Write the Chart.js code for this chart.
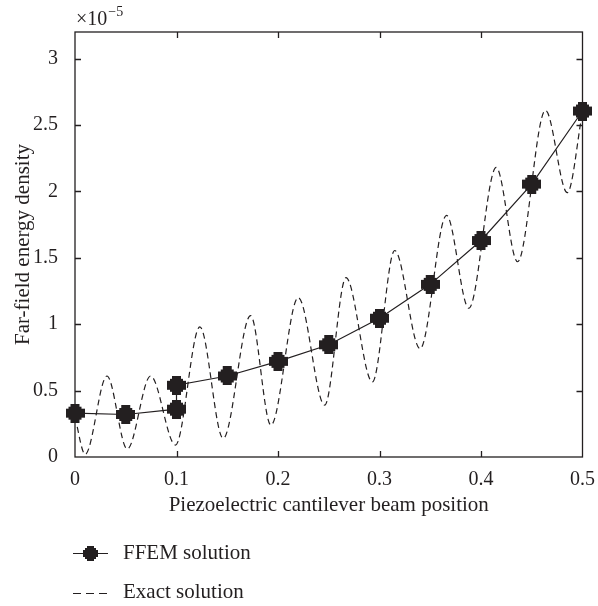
<!DOCTYPE html>
<html>
<head>
<meta charset="utf-8">
<script src="https://cdn.jsdelivr.net/npm/chart.js@4.4.1/dist/chart.umd.min.js"></script>
<style>
  html, body { margin: 0; padding: 0; background: #fff; }
  canvas { display: block; }
</style>
</head>
<body>
<canvas id="myChart" width="598" height="606"></canvas>
<script>
// values are in units of 1e-5 (see the x10^-5 label on the axis)
const ffemX = [0, 0.05, 0.1, 0.1, 0.15, 0.2, 0.25, 0.3, 0.35, 0.4, 0.45, 0.5];
const ffemY = [0.33, 0.32, 0.36, 0.54, 0.61, 0.72, 0.845, 1.045, 1.30, 1.63, 2.055, 2.605];

const exactX = [0, 0.010, 0.0315, 0.0515, 0.0745, 0.099, 0.123, 0.146, 0.173, 0.193, 0.220,
                0.246, 0.267, 0.293, 0.315, 0.340, 0.366, 0.388, 0.415, 0.436, 0.4635, 0.485, 0.5];
const exactY = [0.30, 0.02, 0.61, 0.06, 0.61, 0.09, 0.98, 0.14, 1.065, 0.24, 1.20,
                0.39, 1.35, 0.565, 1.555, 0.815, 1.82, 1.12, 2.18, 1.47, 2.61, 1.99, 2.60];

const xTicks = [0, 0.1, 0.2, 0.3, 0.4, 0.5];
const yTicks = [0, 0.5, 1, 1.5, 2, 2.5, 3];

const seriesNames = ["FFEM solution", "Exact solution"];

const ink = "#231f20";
const serif = "'Liberation Serif', 'DejaVu Serif', serif";

// blocky round marker like the one in the figure
function makeMarker(s) {
    const c = document.createElement("canvas");
    c.width = s; c.height = s;
    const g = c.getContext("2d");
    g.fillStyle = ink;
    const a = Math.round(s * 0.47);
    const o = Math.round((s - a) / 2);
    const b = Math.round(s * 0.16);
    g.fillRect(o, 0, a, s);
    g.fillRect(0, o, s, a);
    g.fillRect(b, b, s - 2 * b, s - 2 * b);
    return c;
}
const bigMarker = makeMarker(19);
const smallMarker = makeMarker(15);

const fmt = v => String(+v.toFixed(2));

// box, inward ticks on all four sides, exponent, legend
const frame = {
    id: "frame",
    beforeDatasetsDraw(chart) {
        const { ctx, chartArea: a, scales: { x, y } } = chart;
        ctx.save();
        ctx.strokeStyle = ink;
        ctx.lineWidth = 1.3;
        ctx.strokeRect(a.left, a.top, a.right - a.left, a.bottom - a.top);
        ctx.beginPath();
        x.ticks.forEach(t => {
            const px = Math.round(x.getPixelForValue(t.value)) + 0.5;
            if (px <= a.left + 2 || px >= a.right - 2) return;
            ctx.moveTo(px, a.bottom); ctx.lineTo(px, a.bottom - 6);
            ctx.moveTo(px, a.top); ctx.lineTo(px, a.top + 6);
        });
        y.ticks.forEach(t => {
            const py = Math.round(y.getPixelForValue(t.value)) + 0.5;
            if (py <= a.top + 2 || py >= a.bottom - 2) return;
            ctx.moveTo(a.left, py); ctx.lineTo(a.left + 6, py);
            ctx.moveTo(a.right, py); ctx.lineTo(a.right - 6, py);
        });
        ctx.stroke();

        ctx.fillStyle = ink;
        ctx.textBaseline = "alphabetic";
        ctx.font = "20px " + serif;
        ctx.fillText("\u00d710", a.left + 1, 25);
        const w = ctx.measureText("\u00d710").width;
        ctx.font = "14px " + serif;
        ctx.fillText("\u22125", a.left + 2 + w, 16);
        ctx.restore();
    },
    afterDraw(chart) {
        const ctx = chart.ctx;
        ctx.save();
        ctx.strokeStyle = ink;
        ctx.fillStyle = ink;
        ctx.lineWidth = 1.2;

        // FFEM entry
        ctx.beginPath();
        ctx.moveTo(73, 553.5); ctx.lineTo(108, 553.5);
        ctx.stroke();
        ctx.drawImage(smallMarker, 83, 546);

        // exact entry
        ctx.setLineDash([8, 5]);
        ctx.beginPath();
        ctx.moveTo(73, 593.5); ctx.lineTo(108, 593.5);
        ctx.stroke();
        ctx.setLineDash([]);

        ctx.font = "21px " + serif;
        ctx.textBaseline = "middle";
        ctx.fillText(seriesNames[0], 123, 553);
        ctx.fillText(seriesNames[1], 123, 592);
        ctx.restore();
    }
};

const data = {
    datasets: [
        {
            label: seriesNames[0],
            data: ffemX.map((x, i) => ({ x: x, y: ffemY[i] })),
            borderColor: ink,
            borderWidth: 1.2,
            pointStyle: bigMarker,
            tension: 0,
            clip: false,
            order: 0,
        },
        {
            label: seriesNames[1],
            data: exactX.map((x, i) => ({ x: x, y: exactY[i] })),
            borderColor: ink,
            borderWidth: 1.2,
            borderDash: [6, 4],
            pointRadius: 0,
            cubicInterpolationMode: "monotone",
            order: 1,
        },
    ],
};

const config = {
    type: "line",
    data: data,
    options: {
        responsive: false,
        animation: false,
        events: [],
        layout: { padding: { top: 32, right: 14, left: 0, bottom: 0 } },
        scales: {
            x: {
                type: "linear",
                min: 0,
                max: 0.5,
                afterBuildTicks: s => { s.ticks = xTicks.map(v => ({ value: v })); },
                afterFit: s => { s.height = 149; },
                grid: { display: false },
                border: { display: false },
                ticks: { color: ink, font: { family: serif, size: 20 }, padding: 3, maxRotation: 0, callback: fmt },
                title: {
                    display: true,
                    text: "Piezoelectric cantilever beam position",
                    color: ink,
                    font: { family: serif, size: 21 },
                    padding: { top: 0, bottom: 88 },
                },
            },
            y: {
                type: "linear",
                min: 0,
                max: 3.2,
                afterBuildTicks: s => { s.ticks = yTicks.map(v => ({ value: v })); },
                afterFit: s => { s.width = 75; },
                grid: { display: false },
                border: { display: false },
                ticks: { color: ink, font: { family: serif, size: 20 }, padding: 9, callback: fmt },
                title: {
                    display: true,
                    text: "Far-field energy density",
                    color: ink,
                    font: { family: serif, size: 21 },
                    padding: { top: 11, bottom: 0 },
                },
            },
        },
        plugins: {
            legend: { display: false },
            tooltip: { enabled: false },
        },
    },
    plugins: [frame],
};

const myChart = new Chart(document.getElementById("myChart"), config);
</script>
</body>
</html>
